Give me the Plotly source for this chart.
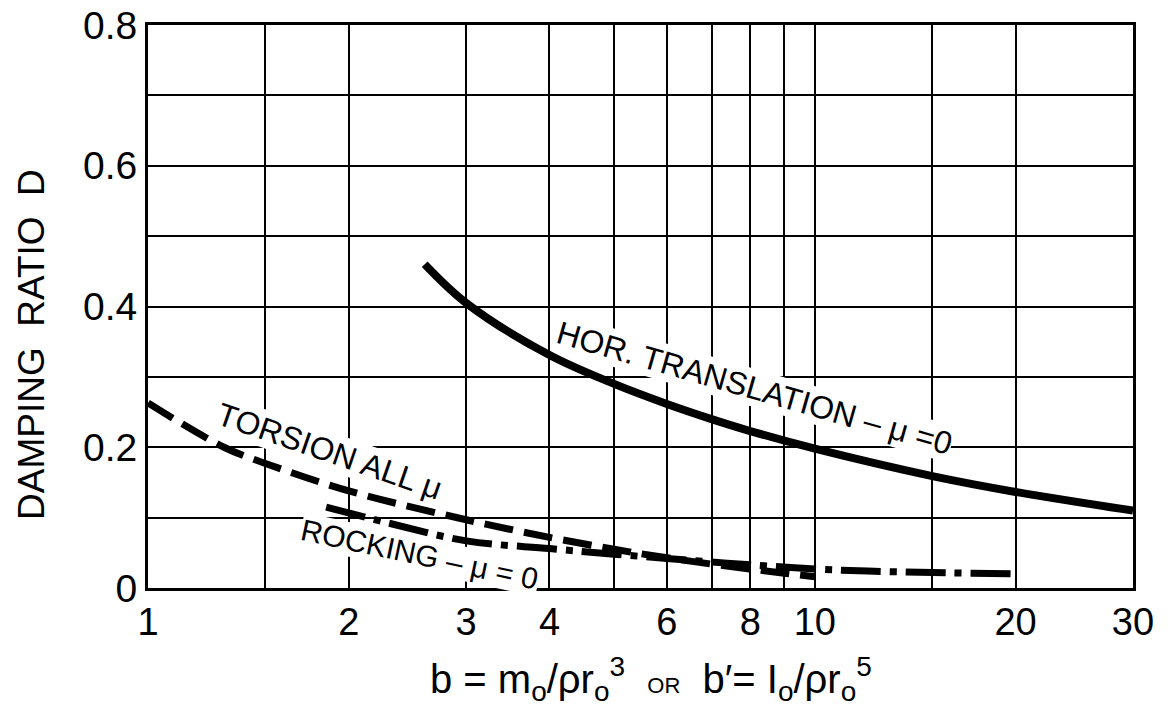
import plotly.graph_objects as go

# ---- data ----
hor_x = [2.6, 3, 4, 5, 6, 7, 8, 10, 15, 20, 30]
hor_y = [0.46, 0.405, 0.331, 0.290, 0.2615, 0.240, 0.223, 0.198, 0.159, 0.1365, 0.110]

tor_x = [1, 1.3, 1.5, 2, 3, 4, 5, 6, 7, 8, 9, 10]
tor_y = [0.263, 0.2, 0.177, 0.138, 0.097, 0.072, 0.055, 0.043, 0.034, 0.027, 0.021, 0.016]

rock_x = [1.85, 2.3, 3, 4, 5, 6, 7, 8, 10, 12, 15, 20]
rock_y = [0.115, 0.092, 0.067, 0.056, 0.048, 0.042, 0.037, 0.033, 0.027, 0.024, 0.022, 0.020]

x_tickvals = [1, 2, 3, 4, 6, 8, 10, 20, 30]
x_ticktext = ["1", "2", "3", "4", "6", "8", "10", "20", "30"]
x_minorvals = [1.5, 5, 7, 9, 15]
y_tickvals = [0, 0.2, 0.4, 0.6, 0.8]
y_ticktext = ["0", "0.2", "0.4", "0.6", "0.8"]
y_minorvals = [0.1, 0.3, 0.5, 0.7]

FONT = "Liberation Sans, Arial, sans-serif"

fig = go.Figure()
fig.add_trace(go.Scatter(x=hor_x, y=hor_y, mode="lines", line=dict(color="black", width=8, shape="spline"),
                         showlegend=False, hoverinfo="skip"))
fig.add_trace(go.Scatter(x=tor_x, y=tor_y, mode="lines",
                         line=dict(color="black", width=7, shape="spline", dash="29px,11px"),
                         showlegend=False, hoverinfo="skip"))
fig.add_trace(go.Scatter(x=rock_x, y=rock_y, mode="lines",
                         line=dict(color="black", width=7, shape="spline", dash="40px,9px,7px,9px"),
                         showlegend=False, hoverinfo="skip"))

L, R, T, B = 148, 35, 25, 125
W, H = 1168, 713
pw, ph = W - L - R, H - T - B


def px(x):
    return (x - L) / pw


def py(y):
    return (H - B - y) / ph


labels = [
    ("HOR. TRANSLATION \u2013 \u03bc =0", 754, 388, 16, 32),
    ("TORSION ALL \u03bc", 329, 451, 19, 32),
    ("ROCKING \u2013 \u03bc = 0", 420, 554, 12, 30),
]
for txt, ax, ay, ang, fs in labels:
    fig.add_annotation(text=txt, x=px(ax), y=py(ay), xref="paper", yref="paper",
                       showarrow=False, textangle=ang, bgcolor="white", borderpad=0,
                       font=dict(family=FONT, size=fs, color="black"),
                       xanchor="center", yanchor="middle")

# axis titles
fig.add_annotation(text="DAMPING\u00a0\u00a0RATIO\u00a0\u00a0D", x=px(31), y=py(345), xref="paper", yref="paper",
                   showarrow=False, textangle=-90, font=dict(family=FONT, size=37, color="black"),
                   xanchor="center", yanchor="middle")
xtitle = ("b = m<sub>o</sub>/\u03c1r<sub>o</sub><sup>3</sup>\u00a0\u00a0<span style='font-size:22px'>OR</span>"
          "\u00a0\u00a0b\u2032= I<sub>o</sub>/\u03c1r<sub>o</sub><sup>5</sup>")
fig.add_annotation(text=xtitle, x=px(651), y=py(679), xref="paper", yref="paper",
                   showarrow=False, font=dict(family=FONT, size=40, color="black"),
                   xanchor="center", yanchor="middle")

fig.update_xaxes(type="log", range=[0, 1.47712], tickvals=x_tickvals, ticktext=x_ticktext,
                 showgrid=True, gridcolor="black", gridwidth=2, zeroline=False,
                 showline=True, linecolor="black", linewidth=3, mirror=True, ticks="",
                 ticklabelstandoff=-2, automargin=False,
                 minor=dict(tickvals=x_minorvals, showgrid=True, gridcolor="black", gridwidth=2, ticks=""),
                 tickfont=dict(family=FONT, size=38, color="black"))
fig.update_yaxes(range=[0, 0.8], tickvals=y_tickvals, ticktext=y_ticktext,
                 showgrid=True, gridcolor="black", gridwidth=2, zeroline=False,
                 showline=True, linecolor="black", linewidth=3, mirror=True, ticks="",
                 ticklabelstandoff=0, automargin=False,
                 minor=dict(tickvals=y_minorvals, showgrid=True, gridcolor="black", gridwidth=2, ticks=""),
                 tickfont=dict(family=FONT, size=39, color="black"))

fig.update_layout(width=W, height=H, margin=dict(l=L, r=R, t=T, b=B, autoexpand=False),
                  paper_bgcolor="white", plot_bgcolor="white", showlegend=False,
                  font=dict(family=FONT, color="black"))

fig.write_html("out.html", config={"displayModeBar": False},
               post_script="document.body.style.margin='0';document.body.style.overflow='hidden';")
